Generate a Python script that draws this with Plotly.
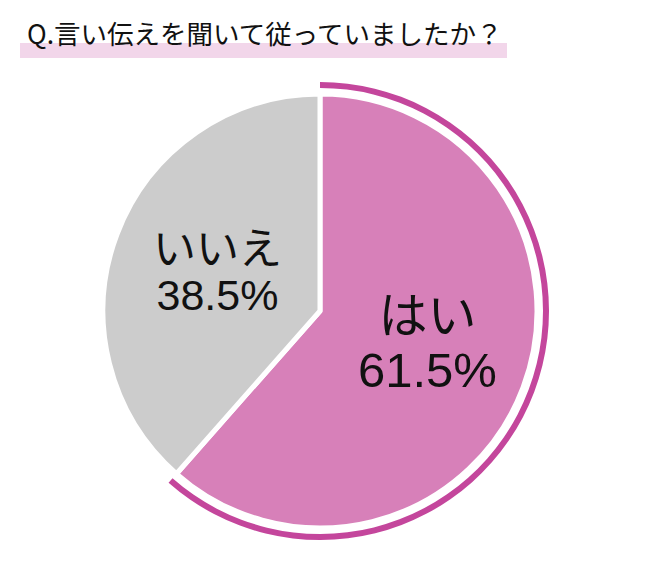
import plotly.graph_objects as go

labels = ["はい", "いいえ"]
values = [61.5, 38.5]
colors = ["#d780b9", "#cccccc"]
arc_color = "#c4469c"
title_text = "Q.言い伝えを聞いて従っていましたか？"

W, H = 650, 563
OFF = 8  # page body margin
cx, cy = 320 - OFF, 311 - OFF
r_pie = 217
r_arc_out = 229
r_arc_in = 223

def dom(r):
    return dict(x=[(cx - r) / W, (cx + r) / W], y=[(H - cy - r) / H, (H - cy + r) / H])

fig = go.Figure()
fig.add_trace(go.Pie(
    labels=labels, values=values, sort=False, direction="clockwise", rotation=0,
    marker=dict(colors=colors, line=dict(color="white", width=5)),
    textinfo="none", hoverinfo="skip", showlegend=False, domain=dom(r_pie),
))
fig.add_trace(go.Pie(
    labels=labels, values=values, sort=False, direction="clockwise", rotation=0,
    marker=dict(colors=[arc_color, "rgba(0,0,0,0)"], line=dict(width=0)),
    hole=r_arc_in / r_arc_out,
    textinfo="none", hoverinfo="skip", showlegend=False, domain=dom(r_arc_out),
))

font = "Liberation Sans, Noto Sans CJK JP"
# (center x, block center y, line gap, glyph size)
label_pos = [(427, 343, 54, 49), (217, 272, 46, 43)]
anns = []
for (lx, yc, gap, fs), lab, val in zip(label_pos, labels, values):
    txt = (f"<span style='font-size:{fs}px'>{lab}</span><br>"
           f"<span style='font-size:{fs}px'>{val}%</span>")
    anns.append(dict(x=(lx - OFF) / W, y=(H - yc + OFF) / H, xref="paper", yref="paper",
                     text=txt, showarrow=False, xanchor="center", yanchor="middle",
                     font=dict(family=font, size=gap / 1.3, color="#111111")))
anns.append(dict(x=(25 - OFF) / W, y=(H - 32 + OFF) / H, xref="paper", yref="paper", text=title_text,
                 showarrow=False, xanchor="left", yanchor="middle",
                 font=dict(family="Noto Sans CJK JP", size=26.5, color="#111111")))

fig.update_layout(
    width=W, height=H, margin=dict(l=0, r=0, t=0, b=0),
    paper_bgcolor="white", plot_bgcolor="white",
    annotations=anns,
    shapes=[dict(type="rect", xref="paper", yref="paper", layer="below",
                 x0=(20 - OFF) / W, x1=(507 - OFF) / W, y0=(H - 58 + OFF) / H, y1=(H - 43 + OFF) / H,
                 fillcolor="#f2d6ea", line=dict(width=0))],
)
fig.write_html("out.html")
